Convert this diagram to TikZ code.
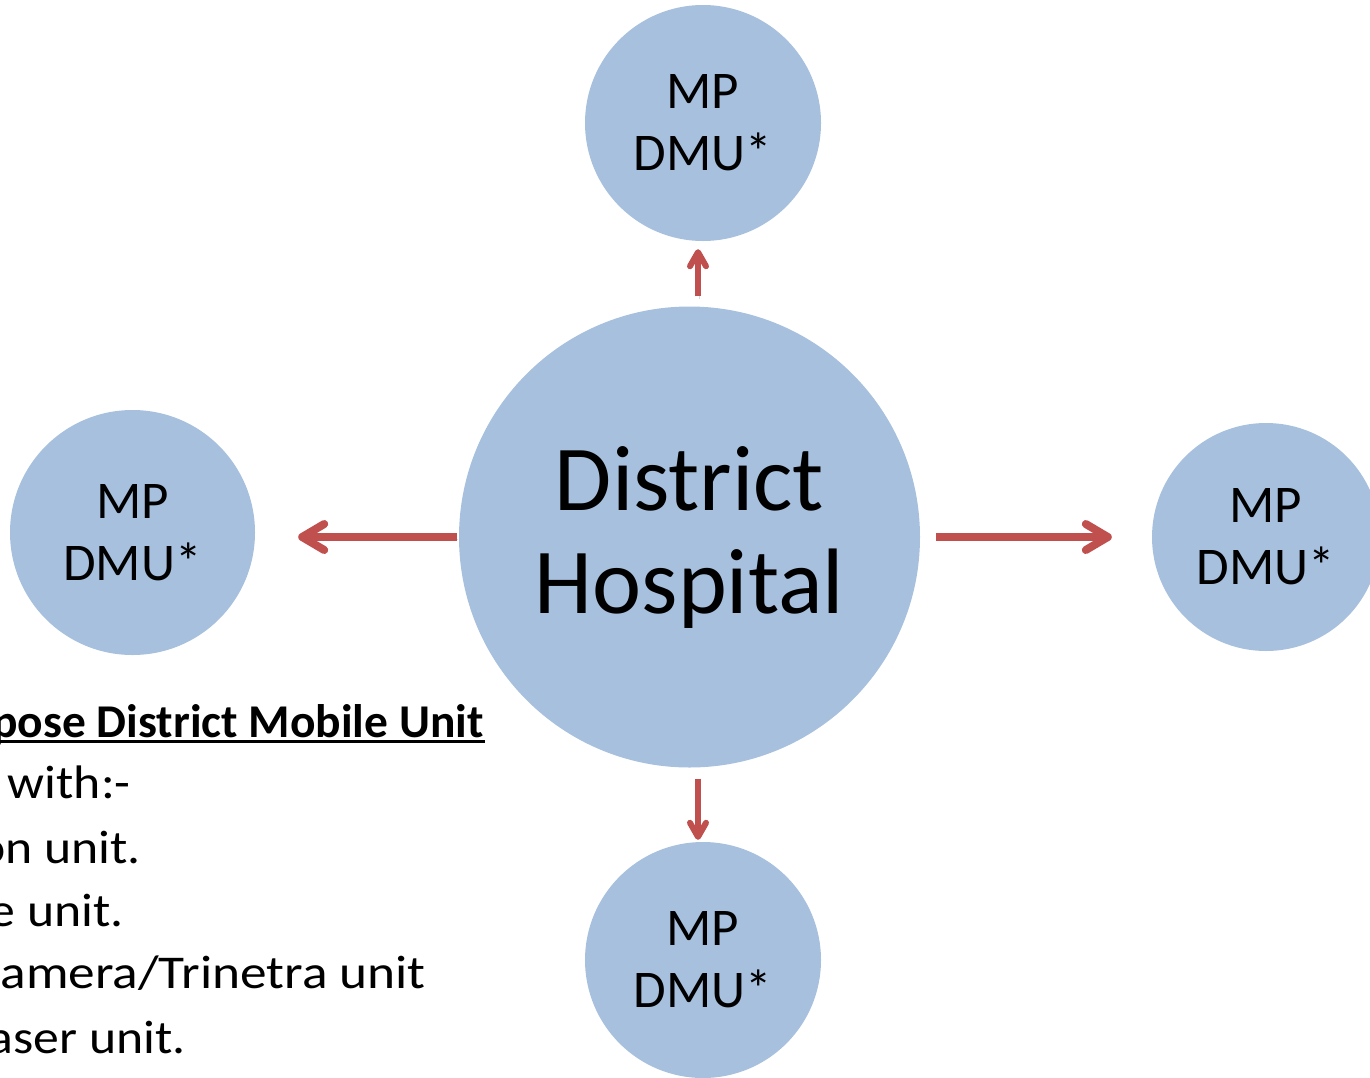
\documentclass[tikz,border=0pt]{standalone}
\usepackage{fontspec}
\setmainfont{Carlito}
\newfontfamily\notefont[FakeStretch=1.1]{Carlito}
\newfontfamily\widenotefont[FakeStretch=1.135]{Carlito}
\newfontfamily\headfont[FakeStretch=1.01]{Carlito}
\usetikzlibrary{arrows.meta}
\definecolor{unitfill}{RGB}{167,192,222}
\definecolor{linkred}{RGB}{192,80,77}

\begin{document}
\begin{tikzpicture}[x=1pt,y=-1pt,
  unit/.style={circle, fill=unitfill, inner sep=0pt, align=center,
    font=\fontsize{53}{62}\selectfont},
  hub/.style={circle, fill=unitfill, inner sep=0pt, minimum size=461pt,
    align=center, font=\fontsize{93}{103}\selectfont},
  link/.style={draw=linkred, line width=8pt,
    -{Straight Barb[length=22pt,width=26pt,round]},
    preaction={draw=black, opacity=0.15,
      transform canvas={shift={(1.5pt,-2.5pt)}}}},
  shortlink/.style={link, line width=6pt,
    -{Straight Barb[length=14pt,width=16pt,round]}},
  note/.style={anchor=base east, inner sep=0pt,
    font=\notefont\fontsize{47}{63}\selectfont}
]
\useasboundingbox (0,0) rectangle (1370,1077);
\begin{scope}
\clip (0,0) rectangle (1370,1077);

% district hospital and the four mobile units around it
\node[hub] (hosp) at (689.5,537) {District\\Hospital};
\node[unit, minimum size=236pt] (north) at (703,123) {MP\\DMU*};
\node[unit, minimum size=245pt] (west) at (132.5,532.5) {MP\\DMU*};
\node[unit, minimum size=228pt] (east) at (1266,537) {MP\\DMU*};
\node[unit, minimum size=236pt] (south) at (703,960) {MP\\DMU*};

% links from the hospital out to each unit
\draw[link, shorten <=2pt, shorten >=43pt]
  (hosp.west) -- ([yshift=-4.5pt]west.east);
\draw[link, shorten <=16pt, shorten >=40pt]
  (hosp.east) -- (east.west);
\draw[shortlink, shorten <=10pt, shorten >=8pt]
  ([xshift=8.5pt]hosp.north) -- ([xshift=-5pt]north.south);
\draw[shortlink, shorten <=11pt, shorten >=2pt]
  ([xshift=8.5pt]hosp.south) -- ([xshift=-5pt]south.north);

% note on the unit's equipment
\node[note, font=\headfont\fontsize{47}{63}\selectfont\bfseries] (title)
  at (484,737) {pose District Mobile Unit};
\draw[line width=3pt] ([yshift=-4.5pt]title.base west)
  -- ([yshift=-4.5pt,xshift=1pt]title.base east);
\node[note] (l1) at (131,798) {with:-};
\node[note] (l2) at (141,863) {on unit.};
\node[note] (l3) at (124,926) {e unit.};
\node[note, font=\widenotefont\fontsize{47}{63}\selectfont] (l4)
  at (426,988) {amera/Trinetra unit};
\node[note] (l5) at (186,1053) {aser unit.};
\end{scope}
\end{tikzpicture}
\end{document}
